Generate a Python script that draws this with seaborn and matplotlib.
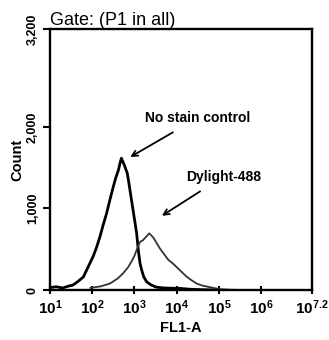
import numpy as np
import pandas as pd
import matplotlib
matplotlib.use("Agg")
import matplotlib.pyplot as plt
from matplotlib.ticker import FixedLocator, LogLocator, NullFormatter
import seaborn as sns

# ---- data (log10 of FL1-A, count) ----
nostain_log = [1.0, 1.15, 1.3, 1.45, 1.54, 1.65, 1.79, 1.9, 2.02, 2.1, 2.18, 2.26, 2.34, 2.42,
               2.50, 2.56, 2.62, 2.66, 2.69, 2.76, 2.83, 2.88, 2.93, 2.99, 3.05, 3.09, 3.13,
               3.17, 3.22, 3.29, 3.40, 3.52, 3.70, 3.90, 4.07, 4.3, 4.6, 5.0]
nostain_cnt = [30, 40, 25, 50, 60, 100, 160, 280, 410, 520, 650, 800, 940, 1110,
               1270, 1380, 1470, 1560, 1615, 1530, 1430, 1270, 1100, 900, 700, 490, 330,
               245, 160, 100, 60, 35, 25, 22, 20, 10, 4, 0]
dylight_log = [1.95, 2.2, 2.42, 2.6, 2.73, 2.85, 2.93, 3.0, 3.05, 3.13, 3.2, 3.27, 3.35,
               3.45, 3.52, 3.60, 3.70, 3.80, 3.90, 3.99, 4.1, 4.23, 4.35, 4.47, 4.6, 4.78,
               5.02, 5.3, 5.6]
dylight_cnt = [25, 45, 80, 140, 205, 280, 350, 420, 490, 590, 610, 650, 695,
               640, 580, 510, 440, 370, 330, 285, 230, 165, 120, 80, 55, 35,
               10, 3, 0]

xtick_exp = [1, 2, 3, 4, 5, 6, 7.2]
xtick_labels = [r"$10^{1}$", r"$10^{2}$", r"$10^{3}$", r"$10^{4}$", r"$10^{5}$", r"$10^{6}$", r"$10^{7.2}$"]
ytick_vals = [0, 1000, 2000, 3200]
ytick_labels = ["0", "1,000", "2,000", "3,200"]

df = pd.concat([
    pd.DataFrame({"FL1-A": 10 ** np.array(nostain_log), "Count": nostain_cnt, "sample": "No stain control"}),
    pd.DataFrame({"FL1-A": 10 ** np.array(dylight_log), "Count": dylight_cnt, "sample": "Dylight-488"}),
])

sns.set_style("ticks")
plt.rcParams["font.family"] = ["Liberation Sans", "DejaVu Sans"]
plt.rcParams["text.color"] = "black"
plt.rcParams["axes.labelcolor"] = "black"
plt.rcParams["xtick.color"] = "black"
plt.rcParams["ytick.color"] = "black"
plt.rcParams["mathtext.fontset"] = "custom"
plt.rcParams["mathtext.rm"] = "Liberation Sans:bold"
plt.rcParams["mathtext.it"] = "Liberation Sans:bold"

fig = plt.figure(figsize=(3.29, 3.40), dpi=100)
ax = fig.add_axes([0.152, 0.147, 0.796, 0.768])

sns.lineplot(data=df[df["sample"] == "No stain control"], x="FL1-A", y="Count",
             color="black", lw=2.0, ax=ax, sort=False)
sns.lineplot(data=df[df["sample"] == "Dylight-488"], x="FL1-A", y="Count",
             color="#333333", lw=1.3, ax=ax, sort=False)

ax.set_xscale("log")
ax.set_xlim(10 ** 1, 10 ** 7.2)
ax.set_ylim(0, 3200)

ax.xaxis.set_major_locator(FixedLocator([10 ** e for e in xtick_exp]))
ax.set_xticklabels(xtick_labels)
ax.xaxis.set_minor_locator(LogLocator(base=10, subs=np.arange(2, 10)))
ax.xaxis.set_minor_formatter(NullFormatter())
ax.set_yticks(ytick_vals)
ax.set_yticklabels(ytick_labels, rotation=90, va="center", fontweight="bold")

ax.tick_params(axis="x", which="major", length=6, width=1.5, labelsize=11, pad=3, direction="inout")
ax.tick_params(axis="x", which="minor", length=5, width=1.0, direction="out")
ax.tick_params(axis="y", which="major", length=5, width=1.5, labelsize=9, pad=3)

for s in ax.spines.values():
    s.set_visible(True)
    s.set_linewidth(1.7)
    s.set_color("black")

ax.set_xlabel("FL1-A", fontsize=10.5, fontweight="bold", labelpad=3)
ax.set_ylabel("Count", fontsize=10.5, fontweight="bold", labelpad=2)
ax.set_title("Gate: (P1 in all)", fontsize=13, loc="left", pad=3)

ax.annotate("No stain control", xy=(10 ** 2.9, 1630), xytext=(10 ** 4.5, 2110),
            ha="center", va="center", fontsize=10, fontweight="bold",
            arrowprops=dict(arrowstyle="->", color="black", lw=1.3, shrinkA=6, shrinkB=0))
ax.annotate("Dylight-488", xy=(10 ** 3.65, 910), xytext=(10 ** 5.1, 1390),
            ha="center", va="center", fontsize=10, fontweight="bold",
            arrowprops=dict(arrowstyle="->", color="black", lw=1.3, shrinkA=6, shrinkB=0))

fig.savefig("out.png", dpi=100)
